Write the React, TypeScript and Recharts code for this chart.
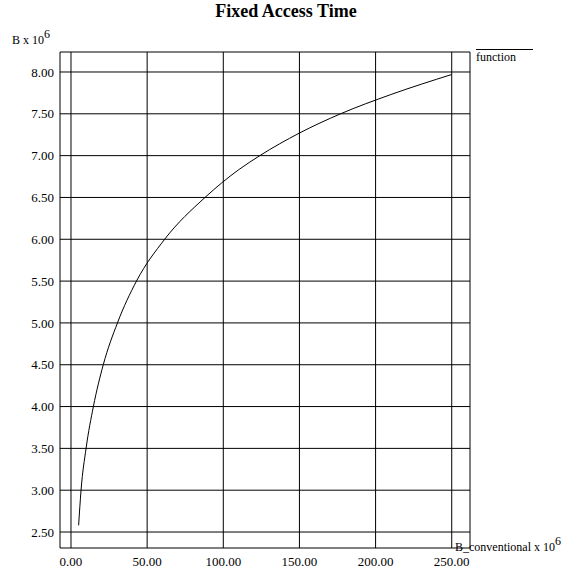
import React from 'react';
import { LineChart, Line, XAxis, YAxis, CartesianGrid, Legend } from 'recharts';

const bConventional = [5, 6.6, 9.9, 14.7, 21.2, 30.5, 43, 61.5, 88, 110, 124, 150, 177, 210, 250];
const bValues = [2.58, 3.0, 3.5, 4.0, 4.5, 5.0, 5.5, 6.0, 6.5, 6.83, 7.0, 7.27, 7.5, 7.73, 7.97];
const xTicks = [0, 50, 100, 150, 200, 250];
const yTicks = [2.5, 3.0, 3.5, 4.0, 4.5, 5.0, 5.5, 6.0, 6.5, 7.0, 7.5, 8.0];
const seriesName = 'function';
const titleText = 'Fixed Access Time';
const yLabelText = 'B x 10';
const xLabelText = 'B_conventional x 10';
const exponentText = '6';

const data = bConventional.map((x, i) => ({ x, y: bValues[i] }));

const FONT = '"Liberation Serif", "Times New Roman", serif';

const LegendContent = () => (
  <div style={{ fontFamily: FONT, fontSize: 12, color: '#000', lineHeight: '12px' }}>
    <div style={{ borderTop: '1px solid #000', width: 57, height: 0 }} />
    <div style={{ marginTop: 1 }}>{seriesName}</div>
  </div>
);

const XTick = (props: any) => {
  const { x, y, payload } = props;
  return (
    <text x={x} y={y} dy="0.71em" textAnchor="middle" fill="#000" fontSize={13} fontFamily={FONT} style={{ fontFamily: FONT }}>
      {Number(payload.value).toFixed(2)}
    </text>
  );
};

const YTick = (props: any) => {
  const { x, y, payload } = props;
  return (
    <text x={x} y={y} dy="0.355em" textAnchor="end" fill="#000" fontSize={13} fontFamily={FONT} style={{ fontFamily: FONT }}>
      {Number(payload.value).toFixed(2)}
    </text>
  );
};

export default function App() {
  return (
    <div style={{ position: 'absolute', left: 0, top: 0, width: 568, height: 571, background: '#fff', fontFamily: FONT }}>
      <LineChart
        width={568}
        height={571}
        data={data}
        margin={{ top: 52, right: 98, bottom: 0, left: 0 }}
        style={{ fontFamily: FONT }}
      >
        <CartesianGrid
          stroke="#000"
          horizontal={{ stroke: '#000', strokeWidth: 1 }}
          vertical={{ stroke: '#555', strokeWidth: 1.2 }}
        />
        <XAxis
          dataKey="x"
          type="number"
          domain={[-7.22, 262]}
          ticks={xTicks}
          allowDataOverflow
          axisLine={false}
          tickLine={false}
          tickSize={0}
          tickMargin={9}
          height={23}
          tick={<XTick />}
          interval={0}
        />
        <YAxis
          type="number"
          domain={[2.309, 8.239]}
          ticks={yTicks}
          allowDataOverflow
          axisLine={false}
          tickLine={false}
          tickSize={0}
          tickMargin={6}
          width={60}
          tick={<YTick />}
          interval={0}
        />
        <Legend
          layout="horizontal"
          verticalAlign="middle"
          align="center"
          content={<LegendContent />}
          wrapperStyle={{ position: 'absolute', left: 476, top: 49, width: 60, height: 16, right: 'auto', bottom: 'auto' }}
        />
        <Line
          type="monotone"
          dataKey="y"
          name={seriesName}
          stroke="#000"
          strokeWidth={1}
          dot={false}
          activeDot={false}
          isAnimationActive={false}
        />
      </LineChart>
      <div style={{ position: 'absolute', left: 0, width: 568, top: 2, textAlign: 'center', paddingLeft: 4, boxSizing: 'border-box', fontWeight: 'bold', fontSize: 18, lineHeight: '18px', color: '#000' }}>
        {titleText}
      </div>
      <div style={{ position: 'absolute', left: 12, top: 34, fontSize: 12, lineHeight: '12px', color: '#000', whiteSpace: 'nowrap' }}>
        <span>{yLabelText}</span>
        <span style={{ fontSize: 12, position: 'relative', top: -6 }}>{exponentText}</span>
      </div>
      <div style={{ position: 'absolute', left: 455, top: 541, fontSize: 12, lineHeight: '12px', color: '#000', whiteSpace: 'nowrap' }}>
        <span>{xLabelText}</span>
        <span style={{ fontSize: 12, position: 'relative', top: -6 }}>{exponentText}</span>
      </div>
    </div>
  );
}
